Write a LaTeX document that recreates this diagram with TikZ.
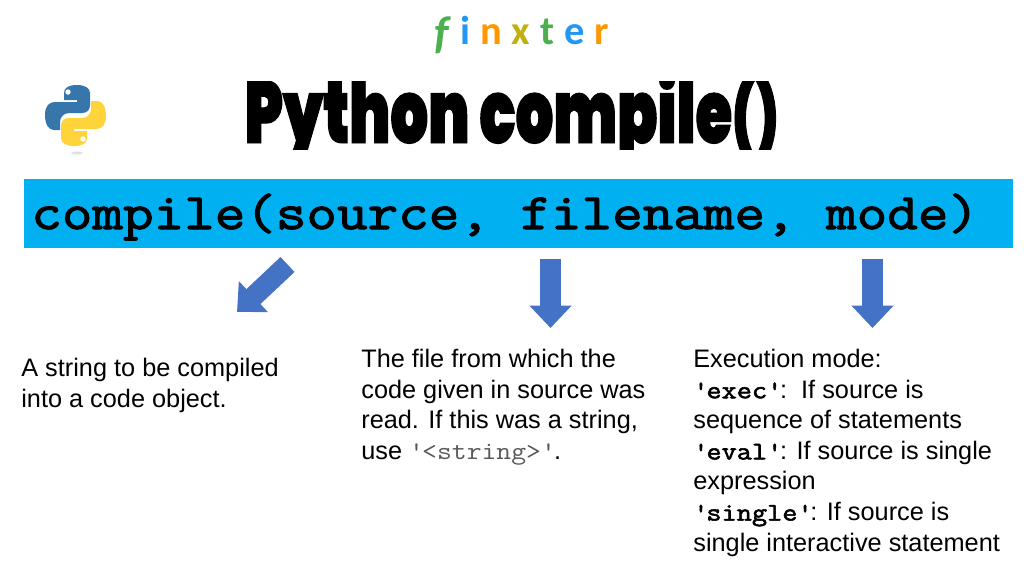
\documentclass[tikz,border=0pt]{standalone}
\usepackage{fontspec}
\usepackage{xcolor}
\usetikzlibrary{arrows.meta}
\setmainfont{Liberation Sans}
\newfontfamily\titlefont[FakeBold=1.1,FakeStretch=0.675]{Poppins Black}
\newfontfamily\brandfont{Carlito Bold}
\newfontfamily\brandfontf{Carlito Bold Italic}
\newfontfamily\sigfont[FakeBold=2.2,FakeStretch=1.165]{Latin Modern Mono}
\newfontfamily\codefont[FakeStretch=1.14]{Latin Modern Mono}
\definecolor{barblue}{HTML}{00B0F0}
\definecolor{arrowblue}{HTML}{4472C4}
\definecolor{fxgreen}{HTML}{4CAF50}
\definecolor{fxblue}{HTML}{2196F3}
\definecolor{fxorange}{HTML}{FF9800}
\definecolor{fxlime}{HTML}{C0B010}
\definecolor{pyblue}{HTML}{3776AB}
\definecolor{pyyellow}{HTML}{FFD43B}
\newcommand{\code}[1]{{\sigfont #1}}

\begin{document}
\begin{tikzpicture}[
  x=0.02cm, y=-0.02cm,
  bodytext/.style={
    anchor=north west, align=left, inner sep=0pt,
    font=\fontsize{14.4pt}{17.4pt}\selectfont
  },
  brandltr/.style={
    anchor=base, inner sep=0pt,
    font=\brandfont\fontsize{23pt}{23pt}\selectfont
  },
  blockarrow/.style={
    draw=arrowblue, line width=0.41cm,
    -{Triangle[width=0.82cm, length=0.45cm]}
  }
]
  \useasboundingbox (0,0) rectangle (1024,576);
  \foreach \ltr/\col/\x in {i/fxblue/465,n/fxorange/491,x/fxlime/521,t/fxgreen/547,e/fxblue/575,r/fxorange/602} {
    \node[brandltr, text=\col] (ltr\ltr) at (\x,44){\ltr};
  }
  \node[brandltr, text=fxgreen, font=\brandfontf\fontsize{26pt}{26pt}\selectfont] (ltrf) at (442,48){f};
  \begin{scope}
    \clip (200,81) rectangle (820,149.5);
    \node[anchor=base, inner sep=0pt, font=\titlefont\fontsize{50pt}{50pt}\selectfont] (title) at (511.5,143){Python compile{\fontsize{42pt}{42pt}\selectfont()}};
  \end{scope}

  \fill[black!12] (77,153) ellipse (6 and 1.5);
  \foreach \col/\ang in {pyblue/0,pyyellow/180} {
    \begin{scope}[rotate around={\ang:(75.5,115.5)}]
      \fill[\col] (77,85) .. controls (68,85) and (64,88) .. (64,93) -- (64,100) -- (77,100) -- (77,102)
        -- (55,102) .. controls (49,102) and (45,106) .. (45,115) .. controls (45,125) and (49,130) .. (54,130)
        -- (60,130) -- (60,122) .. controls (60,117) and (64,113) .. (69,113) -- (82,113)
        .. controls (87,113) and (90,110) .. (90,105) -- (90,93) .. controls (90,88) and (85,85) .. (77,85) -- cycle;
      \fill[white] (68,92) circle (2.7);
    \end{scope}
  }

  \node[fill=barblue, inner sep=0pt, minimum width=19.78cm, minimum height=1.38cm] (bar) at (518.5,213.5){};
  \node[anchor=base west, inner sep=0pt, font=\sigfont\fontsize{29pt}{29pt}\selectfont] (sig) at (31,229){compile(source, filename, mode)};

  \coordinate (srcfrom) at (287.5,264.5);
  \coordinate (srcto) at (237,312);
  \coordinate (filefrom) at (550.5,259);
  \coordinate (fileto) at (550.5,328);
  \coordinate (modefrom) at (872.5,259);
  \coordinate (modeto) at (872.5,328);
  \draw[blockarrow] (srcfrom)--(srcto);
  \draw[blockarrow] (filefrom)--(fileto);
  \draw[blockarrow] (modefrom)--(modeto);

  \node[bodytext] (srcnote) at (21,358){A string to be compiled\\into a code object.};
  \node[bodytext] (filenote) at (361,349){The file from which the\\code given in source was\\read. If this was a string,\\use {\codefont\color{black!65}\textquotesingle{}<string>\textquotesingle{}}.};
  \node[bodytext] (modenote) at (693,349){Execution mode:\\\code{\textquotesingle{}exec\textquotesingle{}}:\ \ If source is\\sequence of statements\\\code{\textquotesingle{}eval\textquotesingle{}}: If source is single\\expression\\\code{\textquotesingle{}single\textquotesingle{}}: If source is\\single interactive statement};
\end{tikzpicture}
\end{document}
